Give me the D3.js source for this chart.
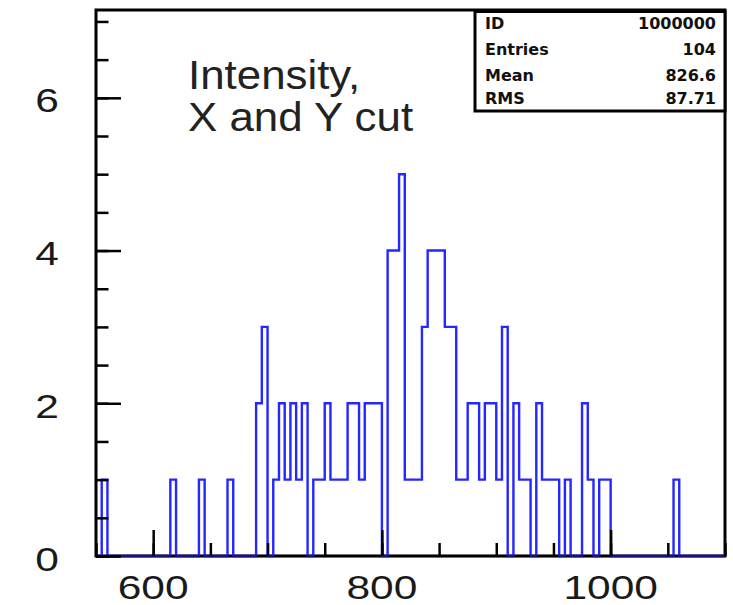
<!DOCTYPE html>
<html>
<head>
<meta charset="utf-8">
<script src="https://cdn.jsdelivr.net/npm/d3@7"></script>
<style>
  html, body { margin: 0; padding: 0; background: #fff; }
  svg { display: block; }
</style>
</head>
<body>
<svg id="chart" width="733" height="605"></svg>
<script>
// Intensity histogram: 110 bins of width 5 covering 550..1100
const xRange = [550, 1100];
const binWidth = 5;
const binCounts = [
  0, 1, 0, 0, 0, 0, 0, 0, 0, 0,   // 550-600
  0, 0, 0, 1, 0, 0, 0, 0, 1, 0,   // 600-650
  0, 0, 0, 1, 0, 0, 0, 0, 2, 3,   // 650-700
  0, 1, 2, 1, 2, 1, 2, 0, 1, 1,   // 700-750
  2, 1, 1, 1, 2, 2, 1, 2, 2, 2,   // 750-800
  0, 4, 4, 5, 1, 1, 1, 3, 4, 4,   // 800-850
  4, 3, 3, 1, 1, 2, 2, 1, 2, 2,   // 850-900
  1, 3, 0, 2, 1, 1, 0, 2, 1, 1,   // 900-950
  1, 0, 1, 0, 0, 2, 1, 0, 1, 1,   // 950-1000
  0, 0, 0, 0, 0, 0, 0, 0, 0, 0,   // 1000-1050
  0, 1, 0, 0, 0, 0, 0, 0, 0, 0    // 1050-1100
];
const yMax = 7.15;
const xMajorTicks = [600, 800, 1000];
const yMajorTicks = [0, 2, 4, 6];
const titleLines = ["Intensity,", "X and Y cut"];
const statNames = ["ID", "Entries", "Mean", "RMS"];
const statValues = ["1000000", "104", "826.6", "87.71"];

const frame = { left: 96, right: 725, top: 10, bottom: 556 };
const svg = d3.select("#chart");

const x = d3.scaleLinear().domain(xRange).range([frame.left, frame.right]);
const y = d3.scaleLinear().domain([0, yMax]).range([frame.bottom, frame.top]);

// Frame
svg.append("rect")
  .attr("x", frame.left).attr("y", frame.top)
  .attr("width", frame.right - frame.left).attr("height", frame.bottom - frame.top)
  .attr("fill", "none").attr("stroke", "#000").attr("stroke-width", 3);

// Histogram outline
const pts = [[xRange[0], 0]];
binCounts.forEach((c, i) => {
  const lo = xRange[0] + i * binWidth;
  pts.push([lo, c], [lo + binWidth, c]);
});
pts.push([xRange[1], 0]);
const line = d3.line().x(d => x(d[0])).y(d => y(d[1]));
svg.append("path")
  .attr("d", line(pts))
  .attr("fill", "none")
  .attr("stroke", "#2626ff")
  .attr("stroke-width", 2.4)
  .attr("stroke-linejoin", "miter");

// Axis ticks drawn inward
function styleTicks(g) {
  g.select(".domain").remove();
  g.selectAll("line").attr("stroke", "#000").attr("stroke-width", 2.5);
}
const xMinor = d3.range(xRange[0], xRange[1] + 1, 50);
svg.append("g").attr("transform", `translate(0,${frame.bottom})`)
  .call(d3.axisTop(x).tickValues(xMinor).tickSize(13).tickSizeOuter(0).tickFormat(""))
  .call(styleTicks);
svg.append("g").attr("transform", `translate(0,${frame.bottom})`)
  .call(d3.axisTop(x).tickValues(xMajorTicks).tickSize(26).tickSizeOuter(0).tickFormat(""))
  .call(styleTicks);

const yMinor = d3.range(0, 7.01, 0.5);
svg.append("g").attr("transform", `translate(${frame.left},0)`)
  .call(d3.axisRight(y).tickValues(yMinor).tickSize(12.5).tickSizeOuter(0).tickFormat(""))
  .call(styleTicks);
svg.append("g").attr("transform", `translate(${frame.left},0)`)
  .call(d3.axisRight(y).tickValues(yMajorTicks).tickSize(25).tickSizeOuter(0).tickFormat(""))
  .call(styleTicks);

// Darken the baseline where the outline runs along zero
svg.append("line")
  .attr("x1", frame.left).attr("x2", frame.right)
  .attr("y1", frame.bottom).attr("y2", frame.bottom)
  .attr("stroke", "#000").attr("stroke-opacity", 0.5).attr("stroke-width", 2.4);

// Tick labels
const labelFont = "'Liberation Sans', Arial, Helvetica, sans-serif";
xMajorTicks.forEach(v => {
  svg.append("text")
    .attr("transform", `translate(${x(v)},599) scale(1.25,1)`)
    .attr("text-anchor", "middle")
    .attr("font-family", labelFont).attr("font-size", 34)
    .attr("fill", "#1a1a1a")
    .text(d3.format("d")(v));
});
yMajorTicks.forEach(v => {
  svg.append("text")
    .attr("transform", `translate(59,${y(v) + 14.5}) scale(1.25,1)`)
    .attr("text-anchor", "end")
    .attr("font-family", labelFont).attr("font-size", 34)
    .attr("fill", "#1a1a1a")
    .text(d3.format("d")(v));
});

// Title text
const titleBaselines = [89.3, 131];
titleLines.forEach((t, i) => {
  svg.append("text")
    .attr("transform", `translate(188,${titleBaselines[i]}) scale(1.07,1)`)
    .attr("font-family", labelFont).attr("font-size", 41)
    .attr("fill", "#222")
    .text(t);
});

// Statistics box
const box = { x: 475, y: 11.5, w: 250, h: 99.5 };
svg.append("rect")
  .attr("x", box.x).attr("y", box.y).attr("width", box.w).attr("height", box.h)
  .attr("fill", "#fff").attr("stroke", "#000").attr("stroke-width", 3);
const statBaselines = [29, 55, 81.3, 104];
const statFont = "'DejaVu Sans', Verdana, sans-serif";
statNames.forEach((n, i) => {
  svg.append("text")
    .attr("x", 485).attr("y", statBaselines[i])
    .attr("font-family", statFont).attr("font-size", 16).attr("font-weight", "bold")
    .attr("fill", "#111")
    .text(n);
  svg.append("text")
    .attr("x", 716).attr("y", statBaselines[i])
    .attr("text-anchor", "end")
    .attr("font-family", statFont).attr("font-size", 16).attr("font-weight", "bold")
    .attr("fill", "#111")
    .text(statValues[i]);
});
</script>
</body>
</html>
